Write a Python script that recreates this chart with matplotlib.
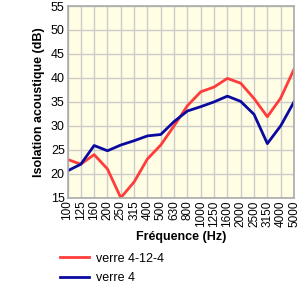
import matplotlib
matplotlib.use("Agg")
import matplotlib.pyplot as plt

freqs = ["100", "125", "160", "200", "250", "315", "400", "500", "630", "800",
         "1000", "1250", "1600", "2000", "2500", "3150", "4000", "5000"]
verre_4_12_4 = [23, 22, 24, 21, 15, 18.3, 23.1, 26, 30, 34.2, 37.1, 38.1, 39.9, 38.9, 35.7, 31.9, 35.8, 41.8]
verre_4 = [20.6, 22, 25.9, 24.8, 26, 26.9, 27.9, 28.2, 30.9, 33.1, 34, 35, 36.2, 35.1, 32.4, 26.3, 30, 35]
yticks = [15, 20, 25, 30, 35, 40, 45, 50, 55]

plt.rcParams['font.family'] = ['Liberation Sans', 'DejaVu Sans']

fig = plt.figure(figsize=(3.0, 3.01), dpi=100)
ax = fig.add_axes([0.225, 0.343, 0.755, 0.637])
ax.set_facecolor('#FFFDE3')
x = list(range(len(freqs)))
l1, = ax.plot(x, verre_4_12_4, color='#FF3B3B', lw=2, label='verre 4-12-4')
l2, = ax.plot(x, verre_4, color='#0A0AA0', lw=2, label='verre 4')
ax.set_xlim(0, len(freqs) - 1)
ax.set_ylim(15, 55)
ax.set_xticks(x)
ax.set_xticklabels(freqs, rotation=90, fontsize=8.5)
ax.set_yticks(yticks)
ax.set_yticklabels([str(v) for v in yticks], fontsize=9)
ax.tick_params(length=0, pad=2)
ax.grid(True, color='#CCCCCC', lw=1)
ax.set_axisbelow(True)
for s in ax.spines.values():
    s.set_color('#AAAAAA')
    s.set_linewidth(1.2)
ax.set_xlabel('Fréquence (Hz)', fontsize=9, fontweight='bold', labelpad=3)
ax.set_ylabel('Isolation acoustique (dB)', fontsize=9, fontweight='bold', labelpad=4)
fig.legend(handles=[l1, l2], loc='upper left', bbox_to_anchor=(0.2, 0.16),
           frameon=False, fontsize=9, handlelength=2.3, handletextpad=0.6,
           labelspacing=0.6, borderaxespad=0, borderpad=0)
fig.savefig('out.png', dpi=100, facecolor='white')
